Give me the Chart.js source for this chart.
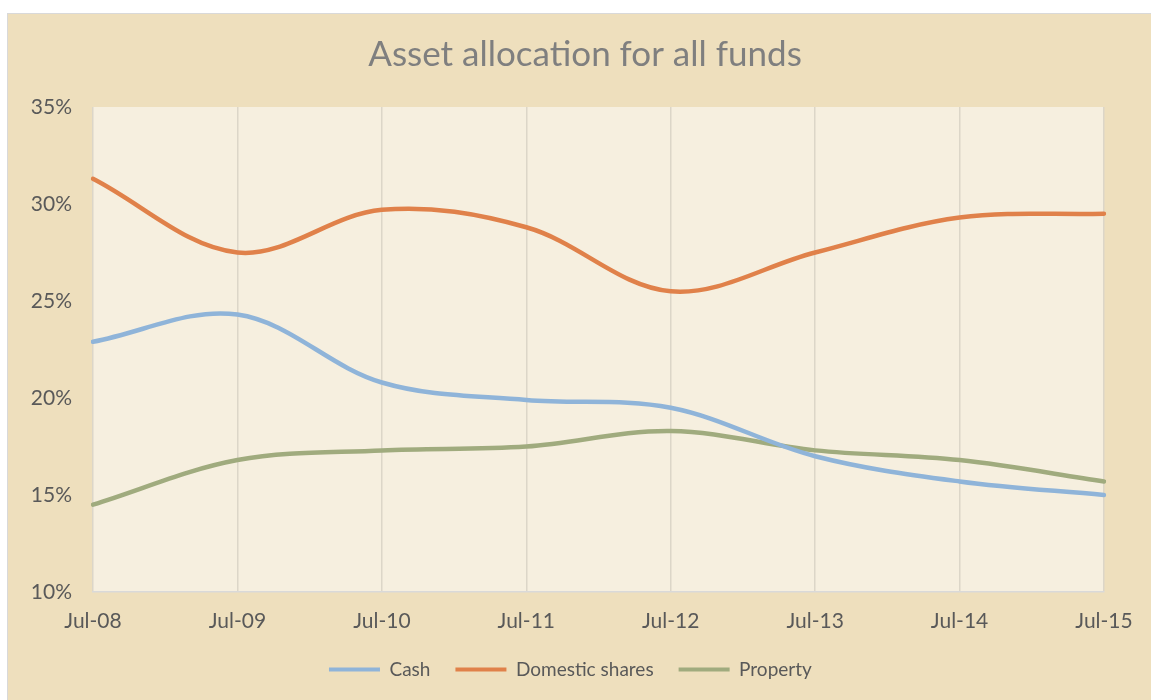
<!DOCTYPE html>
<html>
<head>
<meta charset="utf-8">
<script src="https://cdn.jsdelivr.net/npm/chart.js@4.4.0/dist/chart.umd.min.js"></script>
<style>
  html, body { margin: 0; padding: 0; background: #ffffff; }
  #wrap { position: absolute; left: 7px; top: 13px; width: 1143px; height: 686px;
          border: 1px solid #D9D9D9; border-right: none; border-bottom: none; background: #EEDFBD; }
  canvas { display: block; }
</style>
</head>
<body>
<div id="wrap"><canvas id="c" width="1143" height="686"></canvas></div>
<script>
const categories = ['Jul-08', 'Jul-09', 'Jul-10', 'Jul-11', 'Jul-12', 'Jul-13', 'Jul-14', 'Jul-15'];
const cash = [22.9, 24.3, 20.8, 19.9, 19.5, 17.0, 15.7, 15.0];
const domesticShares = [31.3, 27.5, 29.7, 28.8, 25.5, 27.5, 29.3, 29.5];
const property = [14.5, 16.8, 17.3, 17.5, 18.3, 17.3, 16.8, 15.7];
const yTicks = [10, 15, 20, 25, 30, 35];

const FONT = "'Lato', 'Open Sans', sans-serif";
const TEXT = '#595959';

const plotBg = {
  id: 'plotBg',
  beforeDraw(chart) {
    const a = chart.chartArea, ctx = chart.ctx;
    ctx.save();
    ctx.fillStyle = '#F6EFDF';
    ctx.fillRect(a.left, a.top, a.right - a.left, a.bottom - a.top);
    ctx.restore();
  }
};

new Chart(document.getElementById('c'), {
  type: 'line',
  data: {
    labels: categories,
    datasets: [
      { label: 'Cash', data: cash, borderColor: '#8FB4D9', backgroundColor: '#8FB4D9' },
      { label: 'Domestic shares', data: domesticShares, borderColor: '#E0814A', backgroundColor: '#E0814A' },
      { label: 'Property', data: property, borderColor: '#A0AB7E', backgroundColor: '#A0AB7E' }
    ]
  },
  options: {
    responsive: false,
    animation: false,
    devicePixelRatio: 1,
    layout: { padding: { left: 11, right: 0, top: 0, bottom: 11 } },
    elements: {
      line: { borderWidth: 4.5, tension: 0.35, borderCapStyle: 'round', fill: false },
      point: { radius: 0, hoverRadius: 0 }
    },
    plugins: {
      title: {
        display: true,
        text: 'Asset allocation for all funds',
        color: '#7F7F7F',
        font: { family: FONT, size: 35, weight: 'normal' },
        padding: { top: 20, bottom: 31 }
      },
      legend: {
        position: 'bottom',
        labels: {
          color: TEXT,
          font: { family: FONT, size: 19 },
          boxWidth: 51,
          boxHeight: 4,
          padding: 25,
          generateLabels(chart) {
            const n = chart.data.datasets.length;
            return chart.data.datasets.map((d, i) => ({
              text: i === n - 1 ? d.label + '      ' : d.label,
              fillStyle: d.borderColor, strokeStyle: d.borderColor,
              lineWidth: 0, fontColor: TEXT, datasetIndex: i, hidden: false
            }));
          }
        }
      },
      tooltip: { enabled: false }
    },
    scales: {
      x: {
        offset: false,
        grid: { display: true, color: '#DCD6C8', lineWidth: 1.5, drawTicks: false },
        border: { display: true, color: '#D9D9D9', width: 1.5 },
        ticks: { color: TEXT, font: { family: FONT, size: 21 }, padding: 17, maxRotation: 0, autoSkip: false },
        afterFit(s) { s.height = 43; }
      },
      y: {
        min: 10, max: 35,
        afterBuildTicks(s) { s.ticks = yTicks.map(v => ({ value: v })); },
        grid: { display: false, drawTicks: false },
        border: { display: false },
        ticks: { color: TEXT, font: { family: FONT, size: 21 }, padding: 21, callback: v => v + '%' },
        afterFit(s) { s.width = 74; }
      },
      yRight: {
        position: 'right',
        display: true,
        min: 10, max: 35,
        grid: { display: false, drawTicks: false },
        border: { display: false },
        ticks: { display: false },
        afterFit(s) { s.width = 47; }
      }
    }
  },
  plugins: [plotBg]
});
</script>
</body>
</html>
